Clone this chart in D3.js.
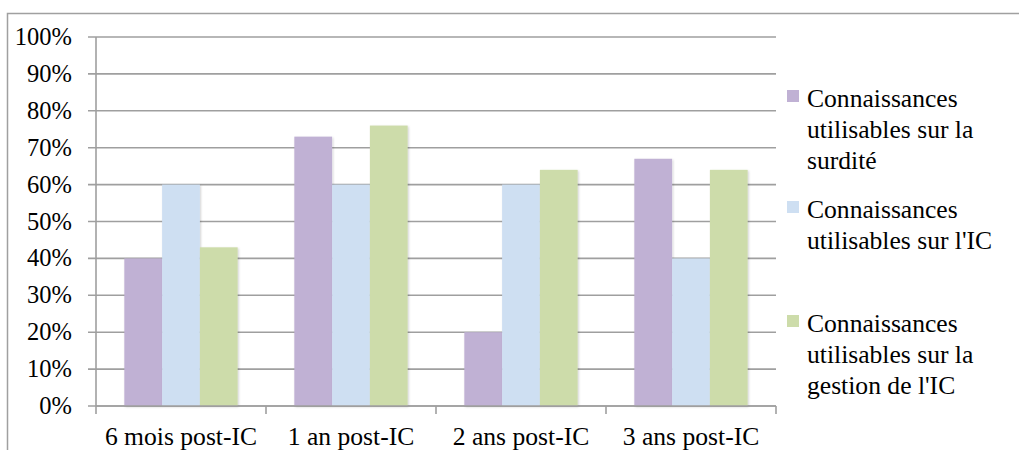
<!DOCTYPE html>
<html>
<head>
<meta charset="utf-8">
<script src="https://cdn.jsdelivr.net/npm/d3@7"></script>
<style>
  body { margin: 0; background: #fff; }
  svg { display: block; }
  text { font-family: "Liberation Serif", serif; }
</style>
</head>
<body>
<svg width="1019" height="450"></svg>
<script>
// data
var categories = ["6 mois post-IC", "1 an post-IC", "2 ans post-IC", "3 ans post-IC"];
var seriesNames = [
    ["Connaissances", "utilisables sur la", "surdité"],
    ["Connaissances", "utilisables sur l'IC"],
    ["Connaissances", "utilisables sur la", "gestion de l'IC"]
];
var surdite = [0.40, 0.73, 0.20, 0.67];
var implant = [0.60, 0.60, 0.60, 0.40];
var gestion = [0.43, 0.76, 0.64, 0.64];
var yTicks = [0, 0.1, 0.2, 0.3, 0.4, 0.5, 0.6, 0.7, 0.8, 0.9, 1.0];

var colors = ["#c0b1d4", "#cedff2", "#cddcaa"];
var allSeries = [surdite, implant, gestion];

function drawChart()
{
    var svg = d3.select("svg");
    var tickFont = 24.5;
    var labelFont = 25.6;

    // outer frame (only top + left visible in the crop)
    svg.append("path")
        .attr("d", "M7.5,450 L7.5,13.5 L1019,13.5")
        .attr("fill", "none")
        .attr("stroke", "#a0a0a0")
        .attr("stroke-width", 1.5);

    const plotLeft = 96, plotRight = 776, plotTop = 37, plotBottom = 406;

    var x0 = d3.scaleBand()
        .domain(categories)
        .range([plotLeft, plotRight])
        .paddingInner(1 / 3)
        .paddingOuter(1 / 6);
    var x1 = d3.scaleBand()
        .domain(d3.range(allSeries.length))
        .range([0, x0.bandwidth()]);
    var yScale = d3.scaleLinear()
        .domain([0, 1])
        .range([plotBottom, plotTop]);

    // gridlines
    svg.append("g")
        .selectAll("line")
        .data(yTicks)
        .enter()
        .append("line")
        .attr("x1", plotLeft - 8)
        .attr("x2", plotRight)
        .attr("y1", d => yScale(d))
        .attr("y2", d => yScale(d))
        .attr("stroke", "#9f9f9f")
        .attr("stroke-width", 1.6);

    // y axis line
    svg.append("line")
        .attr("x1", plotLeft).attr("x2", plotLeft)
        .attr("y1", plotTop).attr("y2", plotBottom)
        .attr("stroke", "#9f9f9f")
        .attr("stroke-width", 1.6);

    // y labels
    svg.append("g")
        .selectAll("text")
        .data(yTicks)
        .enter()
        .append("text")
        .attr("x", 72)
        .attr("y", d => yScale(d) + 8)
        .attr("text-anchor", "end")
        .attr("font-size", tickFont)
        .attr("fill", "#000")
        .text(d => d3.format(".0%")(d));

    // soft shadow under bars
    var f = svg.append("defs").append("filter").attr("id", "sh")
        .attr("x", "-20%").attr("y", "-20%").attr("width", "140%").attr("height", "140%");
    f.append("feDropShadow").attr("dx", 1).attr("dy", 1).attr("stdDeviation", 1.2)
        .attr("flood-color", "#000").attr("flood-opacity", 0.18);

    // bars
    var groups = svg.append("g")
        .selectAll("g")
        .data(categories)
        .enter()
        .append("g")
        .attr("transform", d => "translate(" + x0(d) + ",0)");

    groups.selectAll("rect")
        .data((c, i) => allSeries.map((s, k) => ({ k: k, v: s[i] })))
        .enter()
        .append("rect")
        .attr("x", d => x1(d.k))
        .attr("y", d => yScale(d.v))
        .attr("width", x1.bandwidth())
        .attr("height", d => plotBottom - yScale(d.v))
        .attr("fill", d => colors[d.k])
        .attr("filter", "url(#sh)");

    // x axis
    var step = x0.step();
    var xTickPos = d3.range(categories.length + 1).map(i => plotLeft + i * step);
    svg.append("line")
        .attr("x1", plotLeft).attr("x2", plotRight)
        .attr("y1", plotBottom).attr("y2", plotBottom)
        .attr("stroke", "#9f9f9f")
        .attr("stroke-width", 1.6);
    svg.append("g")
        .selectAll("line")
        .data(xTickPos)
        .enter()
        .append("line")
        .attr("x1", d => d).attr("x2", d => d)
        .attr("y1", plotBottom).attr("y2", plotBottom + 8)
        .attr("stroke", "#9f9f9f")
        .attr("stroke-width", 1.6);

    svg.append("g")
        .selectAll("text")
        .data(categories)
        .enter()
        .append("text")
        .attr("x", d => x0(d) + x0.bandwidth() / 2)
        .attr("y", 445)
        .attr("text-anchor", "middle")
        .attr("font-size", labelFont)
        .attr("fill", "#000")
        .text(d => d);

    // legend
    var legendFirstBaseline = [107, 218, 332];
    var lineH = 31;
    var legend = svg.append("g")
        .selectAll("g")
        .data(seriesNames)
        .enter()
        .append("g")
        .attr("transform", (d, i) => "translate(0," + legendFirstBaseline[i] + ")");

    legend.append("rect")
        .attr("x", 787)
        .attr("y", -17)
        .attr("width", 12)
        .attr("height", 12)
        .attr("fill", (d, i) => colors[i]);

    legend.append("text")
        .attr("font-size", labelFont)
        .attr("fill", "#000")
        .selectAll("tspan")
        .data(d => d)
        .enter()
        .append("tspan")
        .attr("x", 807)
        .attr("y", (d, j) => j * lineH)
        .text(d => d);
}

drawChart();
</script>
</body>
</html>
